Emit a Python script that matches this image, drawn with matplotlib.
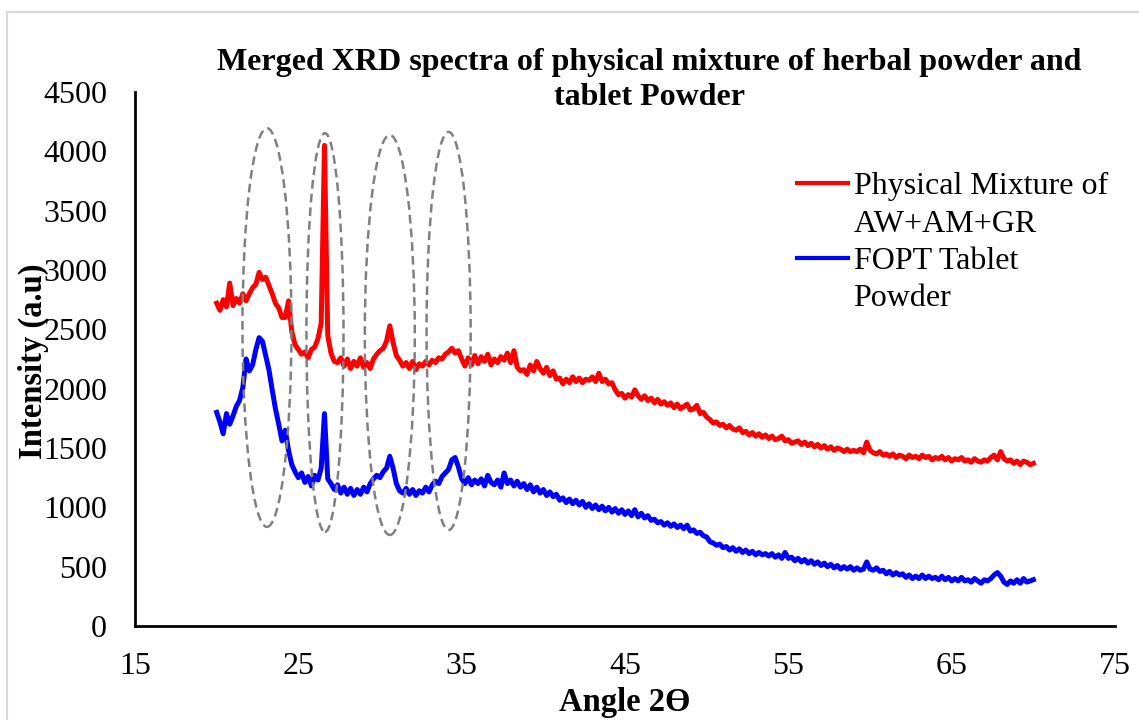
import numpy as np
import matplotlib
matplotlib.use("Agg")
import matplotlib.pyplot as plt
from matplotlib.patches import Ellipse, Rectangle
from matplotlib.lines import Line2D

plt.rcParams['font.family'] = ['Liberation Serif', 'DejaVu Serif']

# ---------------- data ----------------
angle_start, angle_step = 20.0, 0.2   # sampling of the scan (2-theta)

physical_mixture = [
    2720, 2660, 2750, 2690, 2890, 2700, 2760, 2720, 2800, 2740,   # 20.0-21.8
    2800, 2850, 2880, 2980, 2920, 2940, 2870, 2800, 2720, 2680,   # 22.0-23.8
    2600, 2600, 2740, 2480, 2370, 2330, 2290, 2310, 2260, 2330,   # 24.0-25.8
    2350, 2420, 2550, 4050, 2450, 2300, 2230, 2220, 2260, 2190,   # 26.0-27.8
    2250, 2170, 2230, 2190, 2260, 2180, 2220, 2170, 2250, 2290,   # 28.0-29.8
    2320, 2340, 2400, 2530, 2390, 2280, 2240, 2190, 2220, 2170,   # 30.0-31.8
    2230, 2160, 2210, 2190, 2230, 2200, 2240, 2220, 2260, 2250,   # 32.0-33.8
    2290, 2310, 2340, 2300, 2320, 2250, 2190, 2260, 2200, 2280,   # 34.0-35.8
    2210, 2270, 2230, 2290, 2200, 2250, 2220, 2270, 2240, 2300,   # 36.0-37.8
    2220, 2320, 2180, 2150, 2160, 2120, 2200, 2150, 2230, 2170,   # 38.0-39.8
    2130, 2180, 2110, 2150, 2080, 2090, 2040, 2080, 2050, 2100,   # 40.0-41.8
    2060, 2090, 2050, 2080, 2070, 2100, 2060, 2130, 2060, 2080,   # 42.0-43.8
    2040, 2050, 1990, 1950, 1960, 1920, 1950, 1930, 1990, 1940,   # 44.0-45.8
    1910, 1940, 1900, 1920, 1880, 1910, 1870, 1890, 1860, 1880,   # 46.0-47.8
    1840, 1870, 1830, 1850, 1870, 1820, 1830, 1860, 1790, 1800,   # 48.0-49.8
    1760, 1740, 1710, 1720, 1690, 1700, 1670, 1690, 1660, 1650,   # 50.0-51.8
    1670, 1630, 1640, 1610, 1630, 1600, 1620, 1590, 1610, 1580,   # 52.0-53.8
    1600, 1570, 1580, 1600, 1560, 1570, 1540, 1550, 1560, 1530,   # 54.0-55.8
    1550, 1520, 1540, 1510, 1530, 1500, 1520, 1490, 1510, 1480,   # 56.0-57.8
    1500, 1490, 1470, 1490, 1470, 1480, 1470, 1490, 1460, 1550,   # 58.0-59.8
    1480, 1460, 1450, 1470, 1440, 1450, 1430, 1450, 1420, 1440,   # 60.0-61.8
    1430, 1410, 1440, 1420, 1430, 1410, 1440, 1420, 1430, 1400,   # 62.0-63.8
    1420, 1410, 1430, 1400, 1420, 1390, 1410, 1400, 1420, 1390,   # 64.0-65.8
    1400, 1380, 1410, 1390, 1380, 1400, 1390, 1420, 1440, 1400,   # 66.0-67.8
    1470, 1410, 1390, 1400, 1370, 1390, 1360, 1390, 1380, 1360,   # 68.0-69.8
    1370,                                                         # 70.0
]

fopt_tablet = [
    1800, 1720, 1620, 1790, 1700, 1770, 1850, 1900, 2010, 2250,   # 20.0-21.8
    2150, 2200, 2330, 2430, 2400, 2280, 2160, 1990, 1830, 1700,   # 22.0-23.8
    1560, 1650, 1480, 1360, 1300, 1250, 1290, 1210, 1260, 1180,   # 24.0-25.8
    1270, 1230, 1330, 1790, 1240, 1200, 1150, 1190, 1120, 1170,   # 26.0-27.8
    1110, 1160, 1100, 1150, 1110, 1170, 1130, 1200, 1240, 1270,   # 28.0-29.8
    1250, 1300, 1330, 1430, 1330, 1200, 1140, 1120, 1160, 1110,   # 30.0-31.8
    1150, 1100, 1140, 1120, 1170, 1130, 1190, 1220, 1200, 1260,   # 32.0-33.8
    1290, 1320, 1400, 1420, 1340, 1240, 1200, 1250, 1190, 1230,   # 34.0-35.8
    1200, 1240, 1180, 1270, 1210, 1190, 1230, 1170, 1290, 1200,   # 36.0-37.8
    1230, 1180, 1220, 1170, 1200, 1150, 1190, 1130, 1170, 1120,   # 38.0-39.8
    1150, 1100, 1130, 1090, 1110, 1060, 1080, 1040, 1070, 1030,   # 40.0-41.8
    1060, 1020, 1050, 1000, 1030, 990, 1020, 980, 1010, 970,      # 42.0-43.8
    1000, 960, 990, 950, 980, 940, 970, 930, 980, 920,            # 44.0-45.8
    950, 910, 930, 890, 900, 870, 880, 850, 870, 840,             # 46.0-47.8
    860, 830, 850, 820, 850, 800, 810, 780, 790, 760,             # 48.0-49.8
    750, 710, 700, 680, 690, 660, 670, 640, 660, 630,             # 50.0-51.8
    650, 620, 640, 610, 630, 600, 620, 600, 610, 590,             # 52.0-53.8
    610, 580, 600, 570, 620, 570, 580, 550, 570, 540,             # 54.0-55.8
    560, 530, 550, 520, 540, 510, 530, 500, 520, 490,             # 56.0-57.8
    510, 480, 500, 480, 500, 470, 490, 470, 480, 540,             # 58.0-59.8
    480, 470, 490, 460, 470, 440, 460, 430, 450, 430,             # 60.0-61.8
    440, 410, 430, 400, 420, 400, 430, 400, 420, 400,             # 62.0-63.8
    410, 390, 420, 390, 410, 380, 400, 380, 410, 380,             # 64.0-65.8
    390, 370, 400, 380, 360, 390, 380, 400, 430, 450,             # 66.0-67.8
    420, 370, 350, 380, 360, 390, 360, 400, 370, 380,             # 68.0-69.8
    390,                                                          # 70.0
]

series_labels = ["Physical Mixture of", "AW+AM+GR", "FOPT Tablet", "Powder"]
x_ticks = [15, 25, 35, 45, 55, 65, 75]
y_ticks = [0, 500, 1000, 1500, 2000, 2500, 3000, 3500, 4000, 4500]
# highlighted peak regions (centre angle, centre intensity, width, height)
peak_regions = [
    (23.08, 2515, 3.0, 3360),
    (26.63, 2473, 2.27, 3360),
    (30.60, 2452, 3.06, 3370),
    (34.20, 2486, 2.70, 3355),
]

angle_red = angle_start + angle_step * np.arange(len(physical_mixture))
angle_blue = angle_start + angle_step * np.arange(len(fopt_tablet))

# ---------------- figure ----------------
W, H = 1139, 720
fig = plt.figure(figsize=(W / 100, H / 100), dpi=100)
ax = fig.add_axes([135 / W, 1 - 626 / H, (1115 - 135) / W, (626 - 92) / H])

ax.plot(angle_red, physical_mixture, color='#ff0000', lw=3.6, solid_joinstyle='round', zorder=3)
ax.plot(angle_blue, fopt_tablet, color='#0000ff', lw=3.6, solid_joinstyle='round', zorder=3)

for cx, cy, w, h in peak_regions:
    ax.add_patch(Ellipse((cx, cy), w, h, fill=False, edgecolor='#808080',
                         lw=1.8, linestyle=(0, (3.5, 2.0)), zorder=4))

ax.set_xlim(15, 75)
ax.set_ylim(0, 4500)
ax.set_xticks(x_ticks)
ax.set_yticks(y_ticks)
ax.tick_params(length=0, labelsize=23)
ax.tick_params(axis='x', pad=19)
ax.tick_params(axis='y', pad=20)
for s in ['top', 'right']:
    ax.spines[s].set_visible(False)
for s in ['left', 'bottom']:
    ax.spines[s].set_linewidth(2.0)
    ax.spines[s].set_color('black')

fig.text(649 / W, 1 - 80 / H,
         "Merged XRD spectra of physical mixture of herbal powder and\ntablet Powder",
         ha='center', va='center', fontsize=23, fontweight='bold', linespacing=1.25)
fig.text(625 / W, 1 - 703 / H, "Angle 2Ө", ha='center', va='center',
         fontsize=23.5, fontweight='bold')
fig.text(33 / W, 1 - 361 / H, "Intensity (a.u)", ha='center', va='center',
         rotation=90, fontsize=23.5, fontweight='bold')

handles = [Line2D([], [], color='#ff0000', lw=3.0),
           Line2D([], [], color='none'),
           Line2D([], [], color='#0000ff', lw=3.0),
           Line2D([], [], color='none')]
leg = ax.legend(handles, series_labels, loc='upper left',
                bbox_to_anchor=(797 / W, 1 - 172 / H), bbox_transform=fig.transFigure,
                frameon=False, fontsize=23, handlelength=1.6, handletextpad=0.17,
                labelspacing=0.25, borderpad=0, borderaxespad=0)

fig.patches.append(Rectangle((7 / W, -0.1), 1.2, 1 - 12 / H + 0.1, transform=fig.transFigure,
                             fill=False, edgecolor='#d9d9d9', lw=1.5))

fig.savefig("out.png", dpi=100)
